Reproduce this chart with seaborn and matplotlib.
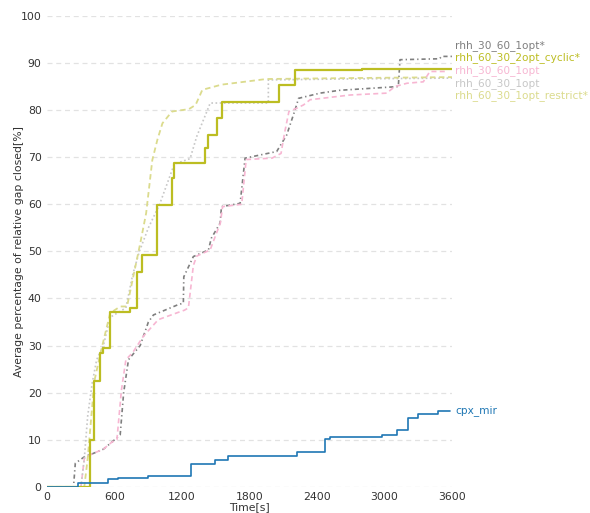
import matplotlib
matplotlib.use("Agg")
import matplotlib.pyplot as plt
import numpy as np
import pandas as pd
import seaborn as sns

# Average relative gap closed over time, one step curve per method
cpx_mir_t = [0, 275, 542, 630, 900, 1280, 1493, 1610, 2220, 2471, 2516, 2975, 3108, 3209, 3298, 3476, 3582]
cpx_mir_v = [0, 0.85, 1.7, 1.9, 2.3, 4.8, 5.6, 6.6, 7.4, 10.1, 10.5, 11.0, 12.0, 14.6, 15.4, 16.1, 16.1]

cyclic_t = [0, 385, 412, 471, 500, 560, 738, 803, 845, 975, 1108, 1129, 1404, 1434, 1508, 1556, 2065, 2204, 2800, 3600]
cyclic_v = [0, 10, 22.4, 28.4, 29.4, 37.2, 38.0, 45.7, 49.3, 59.9, 65.5, 68.7, 71.9, 74.7, 78.3, 81.8, 85.3, 88.5, 88.7, 88.8]

restrict_t = [0, 330, 360, 400, 420, 470, 560, 650, 710, 810, 830, 880, 935, 980, 1025, 1110, 1260, 1320, 1380, 1550, 1950, 2700, 3600]
restrict_v = [0, 0, 6, 17, 22.5, 28, 36.9, 38.3, 38.3, 49.7, 52, 58.1, 69.4, 73.7, 77.2, 79.7, 80.2, 81.1, 84.3, 85.4, 86.6, 86.8, 87.0]

r6030_t = [0, 300, 330, 360, 400, 440, 500, 560, 700, 760, 820, 900, 1000, 1130, 1271, 1330, 1420, 1450, 1967, 1967, 2600, 3600]
r6030_v = [0, 0, 6, 15, 22, 27, 30, 36, 38, 45, 50, 55, 60, 68.5, 69.7, 74.4, 79.7, 81.5, 81.5, 86.4, 86.6, 86.8]

r3060s_t = [0, 234, 250, 338, 400, 500, 575, 649, 680, 723, 827, 900, 945, 1166, 1211, 1215, 1300, 1434, 1460, 1538, 1550, 1716, 1760, 2041, 2130, 2204, 2236, 2427, 2600, 3123, 3138, 3490, 3508, 3600]
r3060s_v = [0, 0, 5, 6.5, 7, 8, 9.5, 11, 20, 27, 30, 35, 36.5, 38.7, 39, 44.6, 48.9, 50.3, 52.8, 56, 59.5, 60.2, 69.8, 71.2, 74.7, 80, 82.5, 83.6, 84.2, 85.0, 90.7, 90.9, 91.4, 91.4]

r3060_t = [0, 300, 330, 400, 500, 575, 620, 660, 700, 760, 856, 988, 1160, 1220, 1256, 1300, 1330, 1449, 1540, 1560, 1730, 1770, 2000, 2080, 2110, 2150, 2219, 2280, 2338, 2693, 3019, 3093, 3200, 3345, 3404, 3560]
r3060_v = [0, 0, 6, 7, 8, 9.5, 10, 20.5, 27, 28.5, 32, 35.5, 37, 37.5, 38, 47, 49, 50.3, 56, 59.5, 60, 69.5, 69.8, 70.8, 75, 79.7, 80.4, 81.1, 82.2, 83.2, 83.6, 85.0, 85.7, 86.0, 88.2, 88.2]

series_names = ["rhh_30_60_1opt*", "rhh_60_30_2opt_cyclic*", "rhh_30_60_1opt",
                "rhh_60_30_1opt", "rhh_60_30_1opt_restrict*", "cpx_mir"]
label_y = [93.8, 91.1, 88.4, 85.7, 83.0, 16.1]

x_ticks = [0, 600, 1200, 1800, 2400, 3000, 3600]
y_ticks = [0, 10, 20, 30, 40, 50, 60, 70, 80, 90, 100]

sns.set_theme(style="white")
plt.rcParams["font.family"] = ["DejaVu Sans"]

fig = plt.figure(figsize=(5.9, 5.13), dpi=100)
ax = fig.add_axes([0.080, 0.051, 0.686, 0.918])

for yv in y_ticks:
    ax.axhline(yv, color="#e2e2e2", lw=0.9, ls=(0, (4, 3)), zorder=0)

styles = [
    (r3060s_t, r3060s_v, "#7f7f7f", (0, (2.5, 1.8, 0.8, 1.8)), 1.2, "default"),
    (r3060_t, r3060_v, "#f7b6d2", (0, (3, 2)), 1.2, "default"),
    (r6030_t, r6030_v, "#c7c7c7", (0, (1, 1.5)), 1.2, "default"),
    (restrict_t, restrict_v, "#dbdb8d", (0, (3, 2)), 1.3, "default"),
    (cyclic_t, cyclic_v, "#bcbd22", "-", 1.6, "steps-post"),
    (cpx_mir_t, cpx_mir_v, "#1f77b4", "-", 1.2, "steps-post"),
]
for t, v, col, ls, lw, ds in styles:
    df = pd.DataFrame({"t": t, "v": v})
    sns.lineplot(data=df, x="t", y="v", ax=ax, color=col, linestyle=ls, lw=lw,
                 drawstyle=ds, estimator=None, sort=False)

label_colors = ["#7f7f7f", "#bcbd22", "#f7b6d2", "#c7c7c7", "#dbdb8d", "#1f77b4"]
for name, yv, col in zip(series_names, label_y, label_colors):
    ax.text(3630, yv, name, color=col, fontsize=7.6, va="center", ha="left", clip_on=False)

ax.set_xlim(0, 3600)
ax.set_ylim(0, 100)
ax.set_xticks(x_ticks)
ax.set_yticks(y_ticks)
ax.tick_params(axis="both", labelsize=7.8, colors="#333333", length=2.5, width=1.5, pad=1.5)
ax.tick_params(axis="y", colors="#bbbbbb", labelcolor="#333333")
ax.set_xlabel("Time[s]", fontsize=7.8, color="#333333", labelpad=0)
ax.set_ylabel("Average percentage of relative gap closed[%]", fontsize=7.8, color="#333333")
ax.yaxis.set_label_coords(-0.058, 0.5)
sns.despine(ax=ax, left=True, bottom=True)

fig.savefig("out.png", dpi=100)
